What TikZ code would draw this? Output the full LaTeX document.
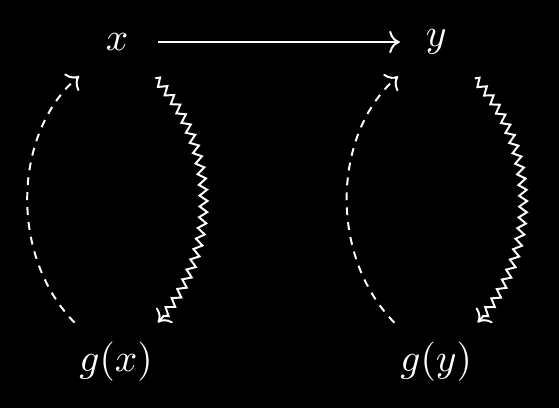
\documentclass[tikz,border=0pt]{standalone}
\usepackage{amsmath}
\usepackage{amssymb}
\usetikzlibrary{arrows.meta,decorations.pathmorphing}

\begin{document}
\begin{tikzpicture}[auto, line width=0.5pt, white,
    >={Computer Modern Rightarrow},
    map/.style={->, shorten <=4pt, shorten >=3pt},
    retract/.style={->, dash pattern=on 2pt off 1.8pt, bend left=47, shorten <=2pt, shorten >=4.5pt},
    squig/.style={->, decorate, decoration={zigzag, amplitude=1pt, segment length=2.8pt, pre=moveto, pre length=5pt, post length=3pt}, bend left=47, shorten >=2pt}]

  \useasboundingbox[fill=black] (0,0) rectangle (4.99,3.643);

  \node (x)  at (1.045,3.268) {$x$};
  \node (y)  at (3.893,3.268) {$y$};
  \node (gx) at (1.036,0.411) {$g(x)$};
  \node (gy) at (3.893,0.411) {$g(y)$};

  \path
    (x)  edge [map] (y)
         edge [squig] (gx)
    (y)  edge [squig] (gy)
    (gx) edge [retract] (x)
    (gy) edge [retract] (y)
  ;

\end{tikzpicture}
\end{document}
